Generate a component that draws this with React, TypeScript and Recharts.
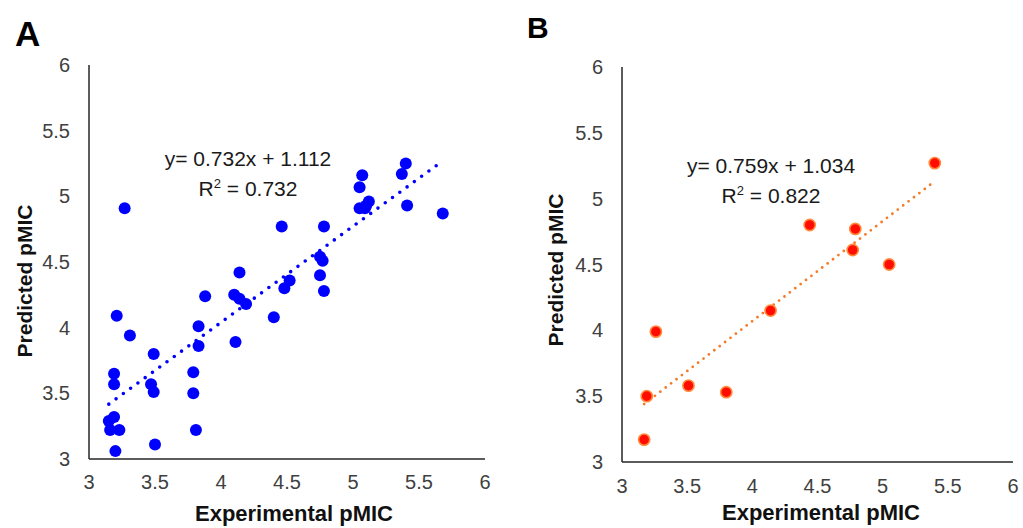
import { ReferenceLine, Scatter, ScatterChart, XAxis, YAxis } from "recharts";

const font = "'Liberation Sans', Arial, sans-serif";

// panel A: training set
const expA = [
  3.27, 3.21, 3.31, 3.19, 3.19, 3.15, 3.19, 3.16, 3.23, 3.2, 3.49, 3.47, 3.49, 3.5, 3.79, 3.79, 3.81, 3.83, 3.83,
  3.88, 4.11, 4.1, 4.14, 4.19, 4.14, 4.4, 4.46, 4.48, 4.52, 4.75, 4.75, 4.77, 4.78, 4.78, 5.05, 5.07, 5.05, 5.09,
  5.12, 5.1, 5.37, 5.4, 5.41, 5.68,
];
const predA = [
  4.91, 4.09, 3.94, 3.65, 3.57, 3.29, 3.32, 3.22, 3.22, 3.06, 3.8, 3.57, 3.51, 3.11, 3.66, 3.5, 3.22, 4.01, 3.86,
  4.24, 3.89, 4.25, 4.22, 4.18, 4.42, 4.08, 4.77, 4.3, 4.36, 4.4, 4.54, 4.51, 4.28, 4.77, 5.07, 5.16, 4.91, 4.91,
  4.96, 4.93, 5.17, 5.25, 4.93, 4.87,
];
const slopeA = 0.732;
const interceptA = 1.112;
const trendRangeA = [3.15, 5.66];

// panel B: test set
const expB = [3.17, 3.19, 3.26, 3.51, 3.8, 4.14, 4.44, 4.77, 4.79, 5.05, 5.4];
const predB = [3.17, 3.5, 3.99, 3.58, 3.53, 4.15, 4.8, 4.61, 4.77, 4.5, 5.27];
const slopeB = 0.759;
const interceptB = 1.034;
const trendRangeB = [3.17, 5.38];

const axisTicks = [3, 3.5, 4, 4.5, 5, 5.5, 6];

const zip = (xs: number[], ys: number[]) => xs.map((x, i) => ({ x, y: ys[i] }));
const dataA = zip(expA, predA);
const dataB = zip(expB, predB);

const tickStyle = { fontSize: 20, fill: "#404040", fontFamily: font };
const axisLine = { stroke: "#262626", strokeWidth: 1.5 };

const BlueDot = (p: any) => <circle cx={p.cx} cy={p.cy} r={6} fill="#0000ff" />;
const RedDot = (p: any) => (
  <circle cx={p.cx} cy={p.cy} r={5.6} fill="#ff0d00" stroke="#ff8a3d" strokeWidth={1.6} />
);

const XTitle = ({ x, y }: { x: number; y: number }) => (
  <text x={x} y={y} textAnchor="middle" fontSize={22} fontWeight="bold" fontFamily={font} fill="#111">
    Experimental pMIC
  </text>
);
const YTitle = ({ x, y }: { x: number; y: number }) => (
  <text
    transform={`translate(${x},${y}) rotate(-90)`}
    textAnchor="middle"
    fontSize={21}
    fontWeight="bold"
    fontFamily={font}
    fill="#111"
  >
    Predicted pMIC
  </text>
);

function Equation({ left, top, eq, r2 }: { left: number; top: number; eq: string; r2: string }) {
  return (
    <div
      style={{
        position: "absolute",
        left: left - 120,
        top,
        width: 240,
        textAlign: "center",
        fontFamily: font,
        fontSize: 21,
        lineHeight: "30px",
        color: "#1a1a1a",
      }}
    >
      <div>{eq}</div>
      <div>
        R<sup style={{ fontSize: 13, verticalAlign: "8px", lineHeight: 0 }}>2</sup> = {r2}
      </div>
    </div>
  );
}

export default function App() {
  return (
    <div style={{ position: "absolute", left: 0, top: 0, width: 1023, height: 528, background: "#fff" }}>
      <div style={{ position: "absolute", left: 0, top: 0 }}>
        <ScatterChart width={500} height={528} margin={{ top: 65, right: 15, left: 0, bottom: 0 }}>
          <XAxis
            type="number"
            dataKey="x"
            domain={[3, 6]}
            ticks={axisTicks}
            height={69}
            tickLine={false}
            tickMargin={10}
            tick={tickStyle}
            axisLine={axisLine}
            label={{ content: () => <XTitle x={294} y={521} /> }}
          />
          <YAxis
            type="number"
            dataKey="y"
            domain={[3, 6]}
            ticks={axisTicks}
            width={89}
            tickLine={false}
            tickMargin={13}
            tick={tickStyle}
            axisLine={axisLine}
            label={{ content: () => <YTitle x={32} y={281} /> }}
          />
          <Scatter data={dataA} shape={BlueDot} isAnimationActive={false} />
          <ReferenceLine
            segment={trendRangeA.map((x) => ({ x, y: slopeA * x + interceptA }))}
            stroke="#0000ff"
            strokeWidth={3.6}
            strokeDasharray="0 9"
            strokeLinecap="round"
          />
        </ScatterChart>
      </div>

      <div style={{ position: "absolute", left: 520, top: 0 }}>
        <ScatterChart width={503} height={528} margin={{ top: 67, right: 10, left: 0, bottom: 0 }}>
          <XAxis
            type="number"
            dataKey="x"
            domain={[3, 6]}
            ticks={axisTicks}
            height={66}
            tickLine={false}
            tickMargin={11}
            tick={tickStyle}
            axisLine={axisLine}
            label={{ content: () => <XTitle x={301} y={520} /> }}
          />
          <YAxis
            type="number"
            dataKey="y"
            domain={[3, 6]}
            ticks={axisTicks}
            width={102}
            tickLine={false}
            tickMargin={13}
            tick={tickStyle}
            axisLine={axisLine}
            label={{ content: () => <YTitle x={43} y={270} /> }}
          />
          <Scatter data={dataB} shape={RedDot} isAnimationActive={false} />
          <ReferenceLine
            segment={trendRangeB.map((x) => ({ x, y: slopeB * x + interceptB }))}
            stroke="#f57a28"
            strokeWidth={2.8}
            strokeDasharray="0 6.8"
            strokeLinecap="round"
          />
        </ScatterChart>
      </div>

      <Equation left={248} top={144} eq="y= 0.732x + 1.112" r2="0.732" />
      <Equation left={771} top={151} eq="y= 0.759x + 1.034" r2="0.822" />

      <div
        style={{
          position: "absolute",
          left: 15,
          top: 16,
          fontFamily: font,
          fontWeight: "bold",
          fontSize: 35,
          lineHeight: 1,
          color: "#000",
        }}
      >
        A
      </div>
      <div
        style={{
          position: "absolute",
          left: 527,
          top: 13,
          fontFamily: font,
          fontWeight: "bold",
          fontSize: 30,
          lineHeight: 1,
          color: "#000",
        }}
      >
        B
      </div>
    </div>
  );
}
